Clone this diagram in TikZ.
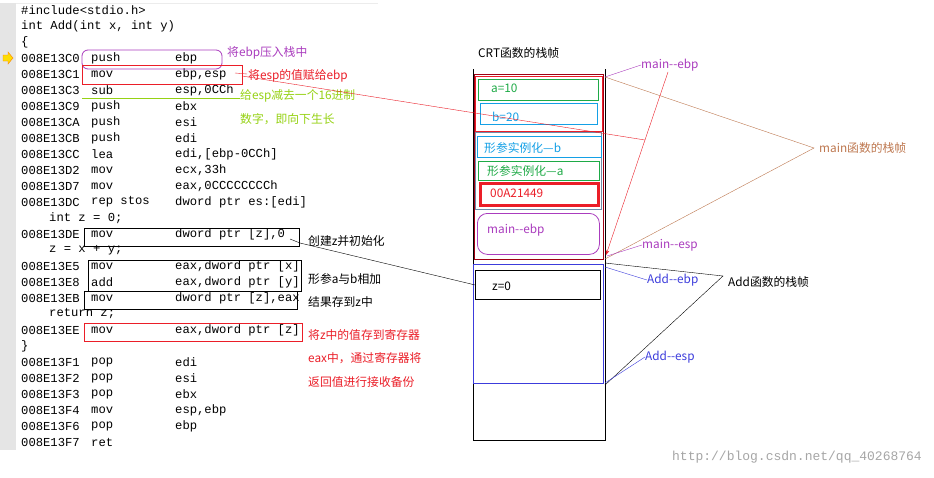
\documentclass[tikz,border=0pt]{standalone}
\usepackage{fontspec}
\usetikzlibrary{arrows.meta}
\setmonofont{Liberation Mono}
\newfontfamily\cjk{Noto Sans CJK SC}
\definecolor{lbl}{RGB}{170,60,190}
\definecolor{lime}{RGB}{150,210,20}
\definecolor{brn}{RGB}{190,120,80}
\definecolor{dred}{RGB}{160,0,20}
\definecolor{grn}{RGB}{30,170,70}
\definecolor{sky}{RGB}{20,160,230}
\definecolor{abl}{RGB}{60,60,220}
\definecolor{redc}{RGB}{235,30,40}
\definecolor{bgy}{RGB}{110,140,170}
\tikzset{
 code/.style={anchor=west,inner sep=0pt,font=\ttfamily\fontsize{12.2}{14}\selectfont},
 lab/.style={anchor=west,inner sep=0pt,font=\cjk\fontsize{11.8}{13}\selectfont},
 bx/.style={draw,line width=0.9pt},
}
\begin{document}
\begin{tikzpicture}[x=1pt,y=-1pt]
\useasboundingbox (0,0) rectangle (934,477);
\fill[white] (0,0) rectangle (934,477);
\fill[gray!20] (0,3) rectangle (16,450);
\draw[gray!15] (16,3) -- (378,3);
\fill[yellow!80!orange,draw=orange] (3,55) -- (8,55) -- (8,52) -- (13,58) -- (8,64) -- (8,61) -- (3,61) -- cycle;
% code
\foreach \y/\a/\m/\o [count=\i] in {
 58/008E13C0/push/ebp, 74/008E13C1/mov/{ebp,esp}, 90/008E13C3/sub/{esp,0CCh},
 106/008E13C9/push/ebx, 122/008E13CA/push/esi, 138/008E13CB/push/edi,
 154/008E13CC/lea/{edi,[ebp-0CCh]}, 170/008E13D2/mov/{ecx,33h}, 186/008E13D7/mov/{eax,0CCCCCCCCh},
 202/008E13DC/rep stos/{dword ptr es:[edi]}, 234/008E13DE/mov/{dword ptr [z],0},
 266/008E13E5/mov/{eax,dword ptr [x]}, 282/008E13E8/add/{eax,dword ptr [y]},
 298/008E13EB/mov/{dword ptr [z],eax}, 330/008E13EE/mov/{eax,dword ptr [z]},
 362/008E13F1/pop/edi, 378/008E13F2/pop/esi, 394/008E13F3/pop/ebx,
 410/008E13F4/mov/{esp,ebp}, 426/008E13F6/pop/ebp, 442/008E13F7/ret/{}}{
 \node[code] (a\i) at (21,\y) {\a};
 \node[code] (m\i) at (91,\y) {\m};
 \node[code] (o\i) at (175,\y) {\o};
}
\node[code] (s1) at (21,10) {\#include<stdio.h>};
\node[code] (s2) at (21,26) {int Add(int x, int y)};
\node[code] (s3) at (21,42) {\{};
\node[code] (s4) at (49,218) {int z = 0;};
\node[code] (s5) at (49,250) {z = x + y;};
\node[code] (s6) at (49,314) {return z;};
\node[code] (s7) at (21,346) {\}};
% code annotations
\draw[lbl,rounded corners=6pt,line width=0.8pt] (82,50) rectangle (222,69);
\draw[redc,line width=0.8pt] (82,65) rectangle (242,84);
\draw[lime,line width=0.8pt] (82,98) -- (240,98);
\draw[bx] (84,228) rectangle (299,246);
\draw[bx] (88,260) rectangle (301,291);
\draw[bx] (84,291) rectangle (297,309);
\draw[redc,line width=0.8pt] (84,323) rectangle (302,341);
\node[lab,text=lbl] (l1) at (227,53) {将ebp压入栈中};
\node[lab,text=redc] (l2) at (248,76) {将esp的值赋给ebp};
\node[lab,text=lime] (l3) at (240,96) {给esp减去一个16进制};
\node[lab,text=lime] (l4) at (240,119) {数字，即向下生长};
\node[lab] (l5) at (308,241) {创建z并初始化};
\node[lab] (l6) at (308,279) {形参a与b相加};
\node[lab] (l7) at (308,302) {结果存到z中};
\node[lab,text=redc] (l8) at (308,335) {将z中的值存到寄存器};
\node[lab,text=redc] (l9) at (308,358) {eax中，通过寄存器将};
\node[lab,text=redc] (l10) at (308,382) {返回值进行接收备份};
% stack
\node[lab] (crt) at (478,53) {CRT函数的栈帧};
\draw[line width=0.9pt] (473,69) -- (473,440) -- (605,440) -- (605,69);
\draw[dred,line width=0.9pt] (474,74) rectangle (603,259);
\draw[redc,line width=0.9pt] (475,76) rectangle (602,131);
\node[draw=grn,line width=0.8pt,minimum width=120pt,minimum height=21pt,anchor=north west,inner sep=0pt] (na) at (478,79) {};
\node[lab,text=grn] at (491,88) {a=10};
\node[draw=sky,line width=0.8pt,minimum width=117pt,minimum height=21pt,anchor=north west,inner sep=0pt] (nb) at (480,103) {};
\node[lab,text=sky] at (492,117) {b=20};
\draw[bgy,line width=0.8pt] (475,132) rectangle (601,209);
\node[draw=sky,line width=0.8pt,minimum width=124pt,minimum height=21pt,anchor=north west,inner sep=0pt] (pb) at (477,136) {};
\node[lab,text=sky] at (484,148) {形参实例化—b};
\node[draw=grn,line width=0.8pt,minimum width=121pt,minimum height=19pt,anchor=north west,inner sep=0pt] (pa) at (478,161) {};
\node[lab,text=grn] at (487,171) {形参实例化—a};
\node[draw=redc,line width=3pt,minimum width=118pt,minimum height=22pt,anchor=north west,inner sep=0pt] (ra) at (479,182) {};
\node[lab,text=redc] at (490,193) {00A21449};
\node[draw=lbl,line width=0.8pt,rounded corners=10pt,minimum width=122pt,minimum height=41pt,anchor=north west,inner sep=0pt] (me) at (477,213) {};
\node[lab,text=lbl] at (487,230) {main--ebp};
\draw[abl,line width=0.9pt] (473,264) rectangle (603,383);
\node[bx,minimum width=125pt,minimum height=29pt,anchor=north west,inner sep=0pt] (zb) at (475,270) {};
\node[lab] at (492,286) {z=0};
% right labels
\node[lab,text=lbl] (mebp) at (641,65) {main--ebp};
\node[lab,text=lbl] (mesp) at (642,245) {main--esp};
\node[lab,text=brn] (mfr) at (819,148) {main函数的栈帧};
\node[lab,text=abl] (aebp) at (647,280) {Add--ebp};
\node[lab] (afr) at (728,282) {Add函数的栈帧};
\node[lab,text=abl] (aesp) at (645,357) {Add--esp};
\coordinate (p1) at (605,77);
\coordinate (p2) at (605,259);
\coordinate (p3) at (605,263);
\coordinate (p4) at (605,385);
\coordinate (mf) at (814,148);
\coordinate (af) at (723,276);
\coordinate (rj) at (645,140);
\draw[lbl] (p1) -- (mebp.west);
\draw[brn] (p1) -- (mf) -- (p2);
\draw[redc,-{Stealth[length=5pt]}] (668,72) -- (606,255);
\draw[redc] (235,73) -- (247,74);
\draw[redc] (242,76) -- (rj);
\draw[lbl] (607,256) -- (mesp.west);
\draw (p3) -- (af) -- (p4);
\draw[abl] (605,267) -- (aebp.west);
\draw[abl] (605,383) -- (aesp.west);
\draw (290,239) -- (300,243) -- (zb.west);
\node[anchor=east,inner sep=0pt,text=gray!70,font=\ttfamily\fontsize{13}{15}\selectfont] (wm) at (922,457) {http://blog.csdn.net/qq\_40268764};
\end{tikzpicture}
\end{document}
